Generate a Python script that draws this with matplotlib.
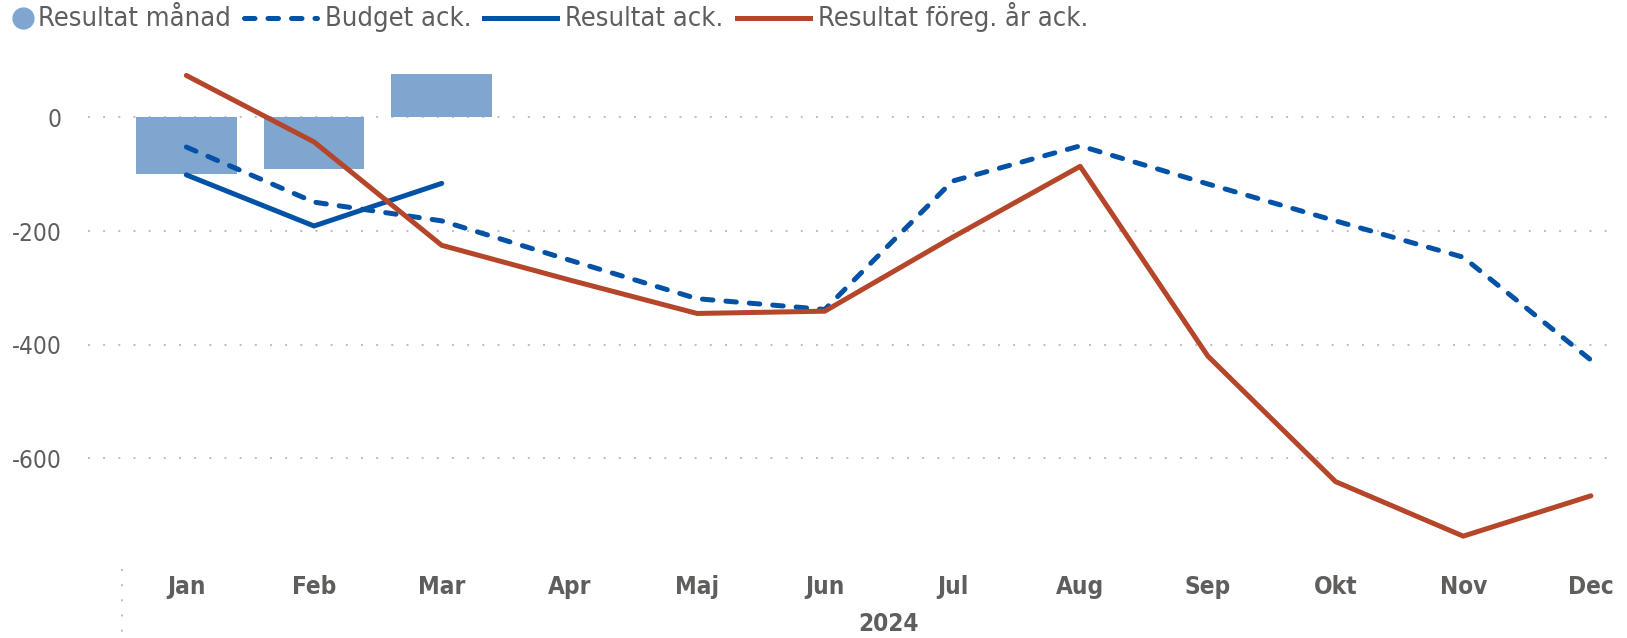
import matplotlib
matplotlib.use('Agg')
import matplotlib.pyplot as plt
import matplotlib.transforms as mtransforms
from matplotlib.lines import Line2D
import numpy as np

months = ['Jan', 'Feb', 'Mar', 'Apr', 'Maj', 'Jun',
          'Jul', 'Aug', 'Sep', 'Okt', 'Nov', 'Dec']
year_label = '2024'

resultat_manad = [-100, -90, 77]
budget_ack = [-52, -149, -182, -251, -319, -338, -112, -50, -117, -182, -246, -427]
resultat_ack = [-101, -191, -116]
foreg_ar_ack = [74, -43, -225, -286, -345, -341, -211, -86, -420, -641, -737, -666]

c_bar = '#7FA6CF'
c_blue = '#0352A5'
c_red = '#B5462A'
c_text = '#605E5C'
c_grid = '#BDBDBD'

plt.rcParams['font.family'] = ['DejaVu Sans']
plt.rcParams['font.stretch'] = 'condensed'
plt.rcParams['axes.unicode_minus'] = False

W, H = 1627, 638
LW = 3.6
DASH = (0, (2.1, 2.6))
DOTS = (0, (1, 6.8))

fig = plt.figure(figsize=(W/100, H/100), dpi=100)
ax = fig.add_axes([88/W, 1 - 560/H, (1619-88)/W, (560-55)/H])

x = np.arange(len(months))
ax.bar(x[:len(resultat_manad)], resultat_manad, width=0.79, color=c_bar, zorder=2)
ax.plot(x, budget_ack, color=c_blue, lw=LW, ls=DASH, dash_capstyle='round', zorder=3)
ax.plot(x[:len(resultat_ack)], resultat_ack, color=c_blue, lw=LW,
        solid_capstyle='round', zorder=3)
ax.plot(x, foreg_ar_ack, color=c_red, lw=LW, solid_capstyle='round', zorder=4)

ax.set_xlim(-0.77, 11.22)
ax.set_ylim(-779, 110)
ax.set_yticks([0, -200, -400, -600])
ax.yaxis.grid(True, color=c_grid, lw=1.4, ls=DOTS)
ax.set_axisbelow(True)
for s in ax.spines.values():
    s.set_visible(False)
ax.set_xticks(x)
ax.set_xticklabels(months, fontsize=17.5, fontweight='bold', color=c_text)
ax.tick_params(axis='both', length=0)
ax.tick_params(axis='x', pad=11)
ax.tick_params(axis='y', pad=19, labelsize=17.5, labelcolor=c_text)

# year level separator and label
trans = mtransforms.blended_transform_factory(ax.transData, fig.transFigure)
ax.add_line(Line2D([-0.5, -0.5], [1 - 569/H, 1 - 636/H], transform=trans,
                   color=c_grid, lw=1.4, ls=DOTS, clip_on=False))
fig.text(ax.transData.transform((5.5, 0))[0] / W, 1 - 624/H, year_label,
         ha='center', va='center', fontsize=17.5, fontweight='bold', color=c_text)

# legend built by hand so the spacing follows the reference
renderer = fig.canvas.get_renderer()
ly = 1 - 18/H        # handle centre line
base = 1 - 26/H      # text baseline
legend_items = [
    ('Resultat månad', dict(marker='o', ls='none', markersize=15, color=c_bar)),
    ('Budget ack.', dict(color=c_blue, lw=LW, ls=DASH, dash_capstyle='round')),
    ('Resultat ack.', dict(color=c_blue, lw=LW)),
    ('Resultat föreg. år ack.', dict(color=c_red, lw=LW)),
]
xpos = 12
for label, style in legend_items:
    if style.get('marker'):
        fig.add_artist(Line2D([(xpos + 11)/W], [ly], transform=fig.transFigure, **style))
        xpos += 26
    else:
        fig.add_artist(Line2D([xpos/W, (xpos + 73)/W], [ly, ly],
                              transform=fig.transFigure, **style))
        xpos += 81
    t = fig.text(xpos/W, base, label, ha='left', va='baseline',
                 fontsize=19.5, color=c_text)
    xpos = t.get_window_extent(renderer).x1 + 13

fig.savefig('out.png', dpi=100)
